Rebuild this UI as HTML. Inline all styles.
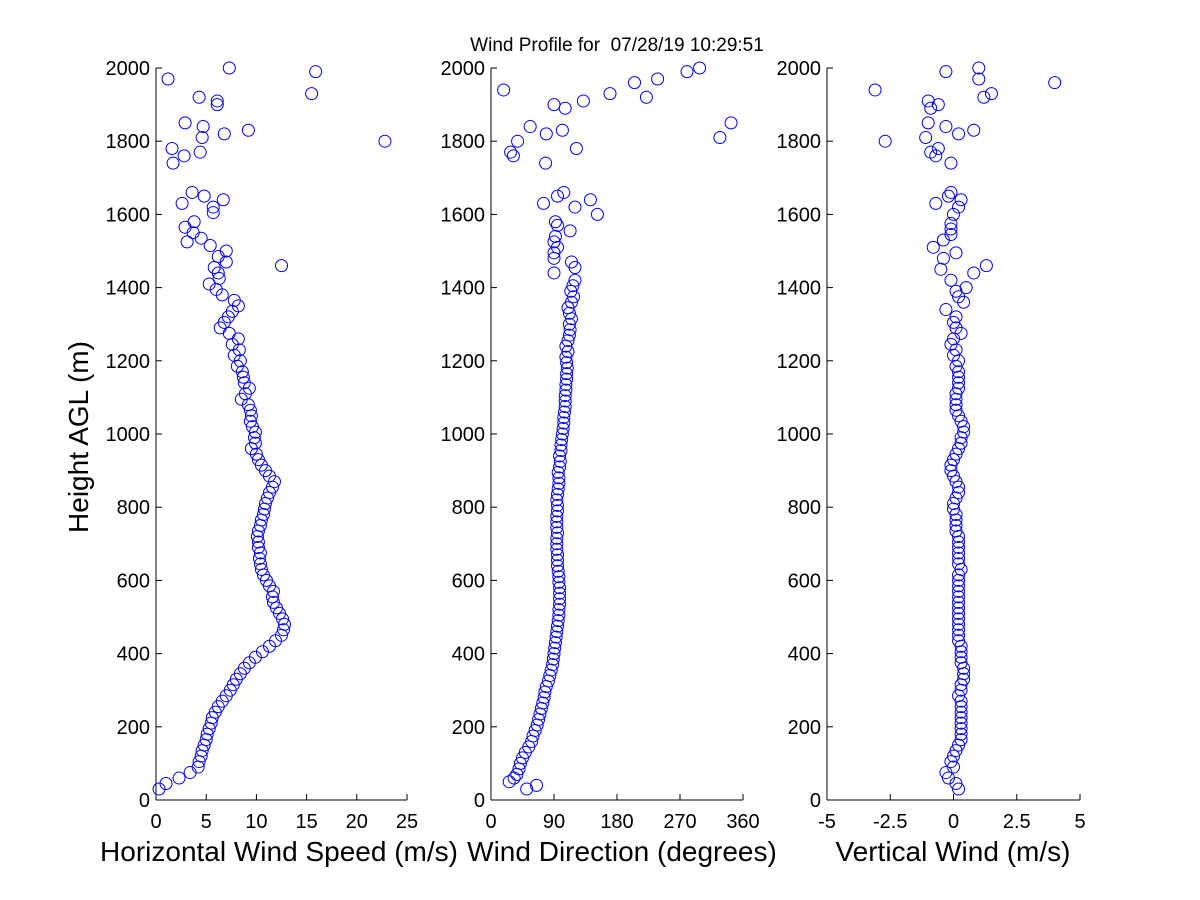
<!DOCTYPE html>
<html><head><meta charset="utf-8"><style>
body{margin:0;background:#fff;}
svg{display:block;font-family:"Liberation Sans",sans-serif;}
</style></head><body>
<svg id="chart" width="1200" height="900" xmlns="http://www.w3.org/2000/svg">
<rect width="1200" height="900" fill="#fff"/>
<text x="617" y="51" font-size="19" text-anchor="middle" xml:space="preserve">Wind Profile for  07/28/19 10:29:51</text>
<text transform="translate(88,437) rotate(-90)" font-size="28" text-anchor="middle">Height AGL (m)</text>
</svg>
<script>
const speedData=[[30,0.3],[45,1.0],[60,2.3],[75,3.4],[90,4.2],[105,4.3],[120,4.5],[135,4.6],[150,4.8],[165,5.0],[180,5.1],[195,5.3],[210,5.5],[225,5.6],[240,5.9],[255,6.2],[270,6.6],[285,7.0],[300,7.4],[315,7.7],[330,8.0],[345,8.4],[360,8.8],[375,9.3],[390,9.9],[405,10.6],[420,11.3],[435,11.9],[450,12.5],[465,12.7],[480,12.8],[495,12.6],[510,12.3],[525,12.0],[540,11.7],[555,11.6],[570,11.7],[585,11.3],[600,11.0],[615,10.7],[630,10.5],[645,10.4],[660,10.3],[675,10.4],[690,10.2],[705,10.2],[720,10.1],[735,10.2],[750,10.4],[765,10.5],[780,10.7],[795,10.8],[810,10.9],[825,11.1],[840,11.3],[855,11.6],[870,11.8],[885,11.3],[900,10.9],[915,10.5],[930,10.2],[945,10.0],[960,9.5],[975,9.9],[990,9.8],[1005,9.9],[1020,9.6],[1035,9.4],[1050,9.5],[1065,9.4],[1080,9.2],[1095,8.5],[1110,8.9],[1125,9.3],[1140,8.8],[1155,8.7],[1170,8.6],[1185,8.1],[1200,8.4],[1215,7.8],[1230,8.3],[1245,7.6],[1260,8.2],[1275,7.3],[1290,6.4],[1305,6.8],[1320,7.2],[1335,7.6],[1350,8.2],[1365,7.8],[1380,6.6],[1395,6.0],[1410,5.3],[1425,6.3],[1440,6.2],[1455,5.8],[1460,12.5],[1470,7.0],[1485,6.2],[1500,7.0],[1515,5.4],[1525,3.1],[1535,4.5],[1550,3.7],[1565,2.9],[1580,3.8],[1605,5.7],[1620,5.7],[1630,2.6],[1640,6.7],[1650,4.8],[1660,3.6],
[1740,1.7],[1760,2.8],[1770,4.4],[1780,1.6],[1800,22.8],[1810,4.6],[1820,6.8],[1830,9.2],[1840,4.7],[1850,2.9],[1900,6.1],[1910,6.1],[1920,4.3],[1930,15.5],[1970,1.2],[1990,15.9],[2000,7.3]];
const dirData=[[30,51],[40,65],[50,26],[60,33],[70,37],[85,40],[100,42],[115,45],[130,49],[145,54],[160,58],[175,60],[190,63],[205,66],[220,68],[235,70],[250,72],[265,74],[280,76],[295,77],[310,79],[325,82],[340,84],[355,86],[370,88],[385,89],[400,90],[415,91],[430,92],[445,93],[460,94],[475,95],[490,96],[505,97],[520,97],[535,98],[550,98],[565,98],[580,98],[595,97],[610,97],[625,96],[640,95],[655,95],[670,95],[685,94],[700,94],[715,94],[730,95],[745,94],[760,94],[775,94],[790,95],[805,95],[820,94],[835,95],[850,96],[865,97],[880,97],[895,96],[910,98],[925,99],[940,98],[955,100],[970,100],[985,101],[1000,102],[1015,103],[1030,104],[1045,104],[1060,105],[1075,106],[1090,106],[1105,106],[1120,107],[1135,107],[1150,108],[1165,108],[1180,109],[1195,108],[1210,107],[1225,110],[1240,107],[1255,110],[1270,112],[1285,113],[1300,112],[1315,115],[1330,112],[1345,110],[1360,115],[1375,118],[1390,114],[1405,117],[1420,120],[1440,90],[1455,120],[1470,115],[1480,90],[1495,90],[1510,95],[1525,90],[1540,92],[1555,113],[1570,95],[1580,92],[1600,152],[1620,120],[1630,75],[1640,142],[1650,95],[1660,104],
[1740,78],[1760,32],[1770,28],[1780,122],[1800,38],[1810,327],[1820,79],[1830,102],[1840,56],[1850,343],[1890,106],[1900,90],[1910,132],[1920,222],[1930,170],[1940,18],[1960,205],[1970,238],[1990,280],[2000,298]];
const vertData=[[30,0.2],[45,0.1],[60,-0.2],[75,-0.3],[90,0.0],[105,-0.1],[120,0.0],[135,0.1],[150,0.2],[165,0.3],[180,0.3],[195,0.3],[210,0.3],[225,0.3],[240,0.3],[255,0.3],[270,0.3],[285,0.2],[300,0.3],[315,0.3],[330,0.4],[345,0.4],[360,0.4],[375,0.3],[390,0.3],[405,0.3],[420,0.3],[435,0.2],[450,0.2],[465,0.2],[480,0.2],[495,0.2],[510,0.2],[525,0.2],[540,0.2],[555,0.2],[570,0.2],[585,0.2],[600,0.2],[615,0.2],[630,0.3],[645,0.2],[660,0.2],[675,0.2],[690,0.2],[705,0.2],[720,0.2],[735,0.1],[750,0.1],[765,0.1],[780,0.1],[795,0.0],[810,0.0],[825,0.1],[840,0.2],[855,0.2],[870,0.1],[885,0.0],[900,-0.1],[915,-0.1],[930,0.0],[945,0.1],[960,0.2],[975,0.3],[990,0.3],[1005,0.4],[1020,0.4],[1035,0.3],[1050,0.2],[1065,0.1],[1080,0.1],[1095,0.1],[1110,0.1],[1125,0.2],[1140,0.2],[1155,0.2],[1170,0.2],[1185,0.1],[1200,0.2],[1215,0.0],[1230,0.1],[1245,-0.1],[1260,0.0],[1275,0.3],[1290,0.1],[1305,0.0],[1320,0.1],[1340,-0.3],[1360,0.4],[1375,0.2],[1390,0.1],[1400,0.5],[1420,-0.1],[1440,0.8],[1450,-0.5],[1460,1.3],[1480,-0.4],[1495,0.1],[1510,-0.8],[1530,-0.4],[1545,-0.1],[1560,-0.1],[1575,-0.1],[1600,0.0],[1620,0.2],[1630,-0.7],[1640,0.3],[1650,-0.2],[1660,-0.1],
[1740,-0.1],[1760,-0.7],[1770,-0.9],[1780,-0.6],[1800,-2.7],[1810,-1.1],[1820,0.2],[1830,0.8],[1840,-0.3],[1850,-1.0],[1890,-0.9],[1900,-0.6],[1910,-1.0],[1920,1.2],[1930,1.5],[1940,-3.1],[1960,4.0],[1970,1.0],[1990,-0.3],[2000,1.0]];
const yTicks=[0,200,400,600,800,1000,1200,1400,1600,1800,2000];
const speedTicks=[0,5,10,15,20,25];
const dirTicks=[0,90,180,270,360];
const vertTicks=[-5,-2.5,0,2.5,5];
const vertTickLabels=["-5","-2.5","0","2.5","5"];

const NS="http://www.w3.org/2000/svg";
const svg=document.getElementById('chart');
function mk(tag,attrs){const e=document.createElementNS(NS,tag);for(const k in attrs)e.setAttribute(k,attrs[k]);svg.appendChild(e);return e;}
const Y0=800,Y1=68;
function yScale(h){return Y0-(h/2000)*(Y0-Y1);}
const panels=[
 {name:'speed',x0:156,x1:407,min:0,max:25,data:speedData,ticks:speedTicks,labels:speedTicks.map(String),title:'Horizontal Wind Speed (m/s)',tx:279},
 {name:'direction',x0:491,x1:743,min:0,max:360,data:dirData,ticks:dirTicks,labels:dirTicks.map(String),title:'Wind Direction (degrees)',tx:622},
 {name:'vertical',x0:827,x1:1080,min:-5,max:5,data:vertData,ticks:vertTicks,labels:vertTickLabels,title:'Vertical Wind (m/s)',tx:953}
];
panels.forEach(p=>{
 const xs=v=>p.x0+(v-p.min)/(p.max-p.min)*(p.x1-p.x0);
 let e=mk('line',{x1:p.x0,y1:Y0,x2:p.x1,y2:Y0,stroke:'#000','stroke-width':1});
 
 
 e=mk('line',{x1:p.x0,y1:Y0,x2:p.x0,y2:Y1,stroke:'#000','stroke-width':1});
 
 
 yTicks.forEach(t=>{
  const y=yScale(t);
  let l=mk('line',{x1:p.x0,y1:y,x2:p.x0+6,y2:y,stroke:'#000'});
  
  
  let tx=mk('text',{x:p.x0-6,y:y+7,'font-size':20,'text-anchor':'end'});
  tx.textContent=t;
  
  
 });
 p.ticks.forEach((t,i)=>{
  const x=xs(t);
  let l=mk('line',{x1:x,y1:Y0,x2:x,y2:Y0-6,stroke:'#000'});
  
  
  let tx=mk('text',{x:x,y:Y0+28,'font-size':20,'text-anchor':'middle'});
  tx.textContent=p.labels[i];
  
  
 });
 let tt=mk('text',{x:p.tx,y:861,'font-size':28,'text-anchor':'middle'});
 tt.textContent=p.title;
 
 
 p.data.forEach(d=>{
  const c=mk('circle',{cx:xs(d[1]),cy:yScale(d[0]),r:6,fill:'none',stroke:'#0000ff','stroke-width':1});
  
  
 });
});
</script>
</body></html>
